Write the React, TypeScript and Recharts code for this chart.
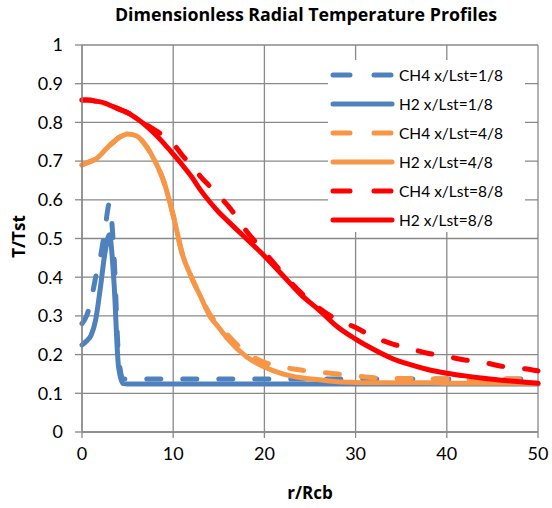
import React from "react";
import { CartesianGrid, Line, LineChart, XAxis, YAxis } from "recharts";

// radial positions r/Rcb (denser near the axis where the 1/8 profiles peak)
const radius = [
  0, 0.5, 1, 1.5, 2, 2.5, 3, 3.5, 4, 4.5, 5, 6, 7, 8, 9, 10, 11, 12, 13, 14,
  15, 16, 18, 20, 22, 24, 26, 28, 30, 32, 34, 36, 38, 40, 42, 44, 46, 48, 50,
];

const ch4Eighth1 = [
  0.28, 0.3, 0.34, 0.4, 0.45, 0.52, 0.59, 0.46, 0.2, 0.137, 0.137, 0.137,
  0.137, 0.137, 0.137, 0.137, 0.137, 0.137, 0.137, 0.137, 0.137, 0.137, 0.137,
  0.137, 0.137, 0.137, 0.137, 0.137, 0.137, 0.137, 0.137, 0.137, 0.137, 0.137,
  0.137, 0.137, 0.137, 0.137, 0.137,
];
const h2Eighth1 = [
  0.225, 0.235, 0.25, 0.29, 0.37, 0.46, 0.51, 0.39, 0.17, 0.125, 0.124, 0.124,
  0.124, 0.124, 0.124, 0.124, 0.124, 0.124, 0.124, 0.124, 0.124, 0.124, 0.124,
  0.124, 0.124, 0.124, 0.124, 0.124, 0.124, 0.124, 0.124, 0.124, 0.124, 0.124,
  0.124, 0.124, 0.124, 0.124, 0.124,
];
const ch4Eighth4 = [
  0.69, 0.695, 0.7, 0.705, 0.715, 0.728, 0.74, 0.75, 0.76, 0.766, 0.77, 0.765,
  0.74, 0.7, 0.645, 0.56, 0.46, 0.4, 0.35, 0.305, 0.275, 0.25, 0.205, 0.18,
  0.168, 0.16, 0.155, 0.15, 0.145, 0.14, 0.138, 0.138, 0.137, 0.137, 0.137,
  0.137, 0.137, 0.137, 0.137,
];
const h2Eighth4 = [
  0.69, 0.695, 0.7, 0.705, 0.715, 0.728, 0.74, 0.75, 0.76, 0.766, 0.77, 0.765,
  0.74, 0.7, 0.645, 0.56, 0.46, 0.4, 0.35, 0.3, 0.27, 0.24, 0.195, 0.168, 0.15,
  0.14, 0.135, 0.13, 0.128, 0.127, 0.127, 0.127, 0.127, 0.126, 0.126, 0.126,
  0.126, 0.126, 0.126,
];
const ch4Eighth8 = [
  0.858, 0.858, 0.857, 0.855, 0.853, 0.85, 0.845, 0.84, 0.835, 0.83, 0.825,
  0.81, 0.795, 0.78, 0.765, 0.745, 0.715, 0.69, 0.66, 0.635, 0.61, 0.585, 0.52,
  0.465, 0.41, 0.36, 0.32, 0.29, 0.27, 0.245, 0.228, 0.215, 0.203, 0.195,
  0.186, 0.18, 0.17, 0.165, 0.158,
];
const h2Eighth8 = [
  0.858, 0.858, 0.857, 0.855, 0.853, 0.85, 0.845, 0.84, 0.835, 0.83, 0.825,
  0.81, 0.792, 0.77, 0.745, 0.718, 0.69, 0.66, 0.625, 0.595, 0.568, 0.545, 0.5,
  0.455, 0.405, 0.355, 0.315, 0.272, 0.24, 0.213, 0.19, 0.174, 0.161, 0.152,
  0.145, 0.139, 0.134, 0.13, 0.126,
];

const xTicks = [0, 10, 20, 30, 40, 50];
const yTicks = [0, 0.1, 0.2, 0.3, 0.4, 0.5, 0.6, 0.7, 0.8, 0.9, 1];

const series = [
  { key: "ch4_1", name: "CH4 x/Lst=1/8", values: ch4Eighth1, color: "#4F81BD", dashed: true },
  { key: "h2_1", name: "H2 x/Lst=1/8", values: h2Eighth1, color: "#4F81BD", dashed: false },
  { key: "ch4_4", name: "CH4 x/Lst=4/8", values: ch4Eighth4, color: "#F79646", dashed: true },
  { key: "h2_4", name: "H2 x/Lst=4/8", values: h2Eighth4, color: "#F79646", dashed: false },
  { key: "ch4_8", name: "CH4 x/Lst=8/8", values: ch4Eighth8, color: "#FF0000", dashed: true },
  { key: "h2_8", name: "H2 x/Lst=8/8", values: h2Eighth8, color: "#FF0000", dashed: false },
];

const data = radius.map((r, i) => {
  const row: Record<string, number> = { r };
  series.forEach((s) => {
    row[s.key] = s.values[i];
  });
  return row;
});

const FONT = "Lato, 'Open Sans', sans-serif";
const BOLD_FONT = "'Open Sans', Lato, sans-serif";
const GRID = "#898989";
const DASH = "14 22";

function LegendBox() {
  return (
    <div
      style={{
        position: "absolute",
        left: 328,
        top: 60,
        width: 197,
        height: 172,
        background: "#fff",
        fontFamily: FONT,
        fontSize: 15.5,
        color: "#000",
      }}
    >
      {series.map((s) => (
        <div
          key={s.key}
          style={{ display: "flex", alignItems: "center", height: 29 }}
        >
          <svg width={70} height={10} style={{ flex: "none" }}>
            <line
              x1={5}
              y1={5}
              x2={64}
              y2={5}
              stroke={s.color}
              strokeWidth={5}
              strokeLinecap="round"
              strokeDasharray={s.dashed ? "17 24" : undefined}
            />
          </svg>
          <span style={{ marginLeft: 1, whiteSpace: "nowrap" }}>{s.name}</span>
        </div>
      ))}
    </div>
  );
}

export default function App() {
  return (
    <div
      style={{
        position: "absolute",
        left: 0,
        top: 0,
        width: 552,
        height: 508,
        background: "#fff",
        fontFamily: FONT,
      }}
    >
      <LineChart
        width={552}
        height={508}
        data={data}
        margin={{ top: 45, right: 14, bottom: 36, left: 32 }}
      >
        <CartesianGrid stroke={GRID} strokeWidth={1.3} />
        <XAxis
          dataKey="r"
          type="number"
          domain={[0, 50]}
          ticks={xTicks}
          height={40}
          stroke={GRID}
          strokeWidth={1.3}
          tickSize={6}
          tick={{ fill: "#000", fontSize: 18, fontFamily: FONT }}
          tickMargin={9}
        />
        <YAxis
          type="number"
          domain={[0, 1]}
          ticks={yTicks}
          width={50}
          stroke={GRID}
          strokeWidth={1.3}
          tickSize={7}
          tick={{ fill: "#000", fontSize: 18, fontFamily: FONT }}
          tickMargin={12}
        />
        {series.map((s) => (
          <Line
            key={s.key}
            dataKey={s.key}
            name={s.name}
            type="monotone"
            stroke={s.color}
            strokeWidth={5}
            strokeLinecap="round"
            strokeLinejoin="round"
            strokeDasharray={s.dashed ? DASH : undefined}
            dot={false}
            activeDot={false}
            isAnimationActive={false}
          />
        ))}
      </LineChart>
      <LegendBox />
      <div
        style={{
          position: "absolute",
          left: 0,
          width: 612,
          top: 2,
          textAlign: "center",
          fontFamily: BOLD_FONT,
          fontWeight: 700,
          fontSize: 17.8,
          color: "#000",
          whiteSpace: "nowrap",
        }}
      >
        Dimensionless Radial Temperature Profiles
      </div>
      <div
        style={{
          position: "absolute",
          left: 210,
          width: 200,
          top: 481,
          textAlign: "center",
          fontFamily: BOLD_FONT,
          fontWeight: 700,
          fontSize: 17,
          color: "#000",
        }}
      >
        r/Rcb
      </div>
      <div
        style={{
          position: "absolute",
          left: -82,
          top: 225,
          width: 200,
          textAlign: "center",
          transform: "rotate(-90deg)",
          fontFamily: BOLD_FONT,
          fontWeight: 700,
          fontSize: 17,
          color: "#000",
        }}
      >
        T/Tst
      </div>
    </div>
  );
}
